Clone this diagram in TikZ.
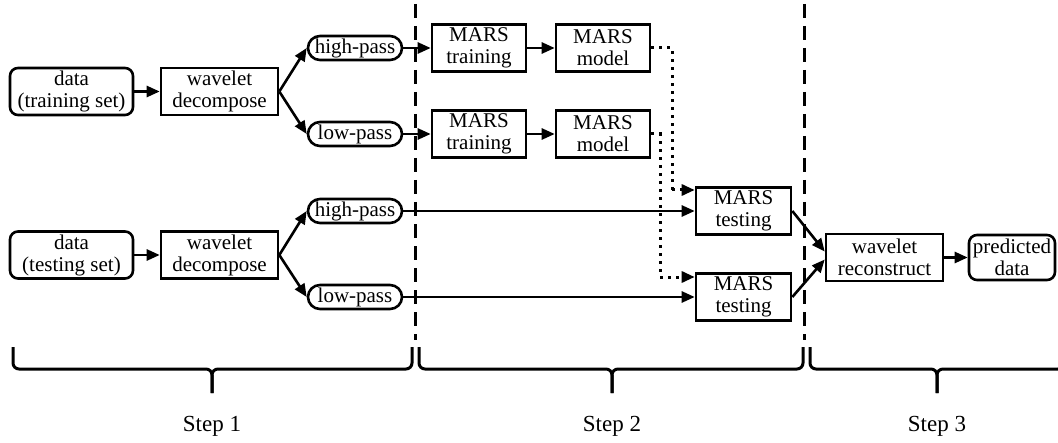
\documentclass[tikz,border=0pt]{standalone}
\usepackage{fontspec}
\setmainfont{Liberation Serif}
\usetikzlibrary{arrows.meta}
\begin{document}
\begin{tikzpicture}[x=0.5pt,y=-0.5pt,
  box/.style={draw, line width=1.3pt, minimum height=23.5pt, inner sep=0pt, align=center, font=\fontsize{10.5}{11}\selectfont},
  rbox/.style={box, rounded corners=4pt},
  pass/.style={box, rounded corners=6pt, minimum height=12pt, minimum width=47pt},
  arr/.style={-{Triangle[length=6.5pt,width=5.5pt]}, line width=1.3pt},
  dots/.style={line width=1.5pt, dash pattern=on 1.5pt off 2.5pt},
  sepline/.style={line width=1.5pt, dash pattern=on 7pt off 4pt},
  brc/.style={line width=1.5pt, rounded corners=3pt},
  steplbl/.style={font=\fontsize{11.5}{13}\selectfont}]
\useasboundingbox (0,0) rectangle (1058,443);

% step 1 nodes
\node[rbox, minimum width=61.5pt] (dtr) at (71.5,91.5) {data\\(training set)};
\node[box, minimum width=58.5pt] (dectr) at (219.5,91.5) {wavelet\\decompose};
\node[pass] (hp1) at (355,48) {high-pass};
\node[pass] (lp1) at (355,134) {low-pass};
\node[rbox, minimum width=61.5pt] (dte) at (71.5,255) {data\\(testing set)};
\node[box, minimum width=58.5pt] (decte) at (219.5,255) {wavelet\\decompose};
\node[pass] (hp2) at (355,211) {high-pass};
\node[pass] (lp2) at (355,297) {low-pass};

% step 2 nodes
\node[box, minimum width=47pt] (mt1) at (479,48) {MARS\\training};
\node[box, minimum width=47pt] (mm1) at (603,48) {MARS\\model};
\node[box, minimum width=47pt] (mt2) at (479,134) {MARS\\training};
\node[box, minimum width=47pt] (mm2) at (603,134) {MARS\\model};
\node[box, minimum width=47.5pt] (te1) at (743.5,211) {MARS\\testing};
\node[box, minimum width=47.5pt] (te2) at (743.5,297) {MARS\\testing};

% step 3 nodes
\node[box, minimum width=58.5pt] (rec) at (884.5,257.5) {wavelet\\reconstruct};
\node[rbox, minimum width=43pt, minimum height=22.5pt] (pred) at (1012,257.5) {predicted\\data};

% connectors
\draw[arr] (dtr) -- (dectr);
\draw[arr] (dectr.east) -- (hp1.west);
\draw[arr] (dectr.east) -- (lp1.west);
\draw[arr] (dte) -- (decte);
\draw[arr] (decte.east) -- (hp2.west);
\draw[arr] (decte.east) -- (lp2.west);
\draw[arr] (hp1) -- (mt1);
\draw[arr] (mt1) -- (mm1);
\draw[arr] (lp1) -- (mt2);
\draw[arr] (mt2) -- (mm2);
\draw[arr] (hp2) -- (te1);
\draw[arr] (lp2) -- (te2);
\draw[arr] (te1.east) -- ([yshift=3pt]rec.west);
\draw[arr] (te2.east) -- ([yshift=-1pt]rec.west);
\draw[arr] (rec) -- (pred);

% dotted model links
\coordinate (d1) at (672,190);
\coordinate (d2) at (660,277);
\draw[dots] (mm1.east) -| (d1);
\draw[dots] (mm2.east) -| (d2);
\draw[arr, dots, -{Triangle[length=6.5pt,width=5.5pt]}] (d1) -- (d1 -| te1.west);
\draw[arr, dots, -{Triangle[length=6.5pt,width=5.5pt]}] (d2) -- (d2 -| te2.west);

% separators
\draw[sepline] (415,4) -- (415,340);
\draw[sepline] (804,4) -- (804,340);

% braces
\draw[brc] (13,347) -- (13,369) -- (212,369) -- (212,393);
\draw[brc] (412,347) -- (412,369) -- (212,369) -- (212,393);
\draw[brc] (419,347) -- (419,369) -- (612,369) -- (612,393);
\draw[brc] (803,347) -- (803,369) -- (612,369) -- (612,393);
\draw[brc] (810,347) -- (810,369) -- (937,369) -- (937,393);
\draw[brc] (1064,347) -- (1064,369) -- (937,369) -- (937,393);

\node[steplbl] (s1) at (212,426) {Step 1};
\node[steplbl] (s2) at (612,426) {Step 2};
\node[steplbl] (s3) at (937,426) {Step 3};
\end{tikzpicture}
\end{document}
